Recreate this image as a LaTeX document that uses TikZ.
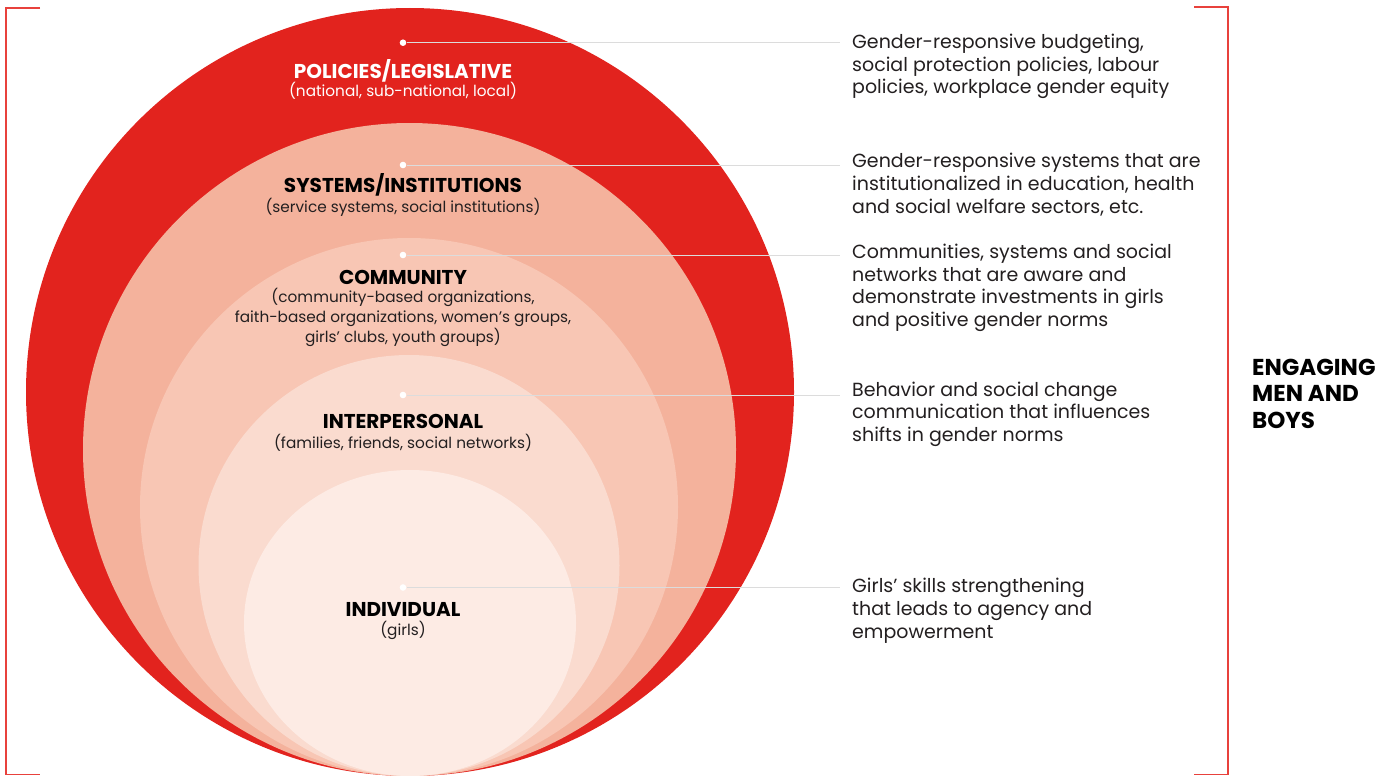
\documentclass[tikz,border=0pt]{standalone}
\usepackage{fontspec}
\setmainfont{Poppins}
\definecolor{cred}{HTML}{E2231E}
\definecolor{csys}{HTML}{F4B29C}
\definecolor{ccom}{HTML}{F8C6B4}
\definecolor{cint}{HTML}{FADBCF}
\definecolor{cind}{HTML}{FDEBE4}
\definecolor{leadgray}{HTML}{DCDCDC}
\definecolor{txt}{HTML}{231F20}
\definecolor{brkred}{HTML}{E8413C}
\begin{document}
\begin{tikzpicture}[x=1pt,y=-1pt,
  dot/.style={circle,fill=white,draw=none,inner sep=0pt,minimum size=6.6pt},
  leader/.style={draw=leadgray,line width=1pt},
  rtext/.style={anchor=base west,inner sep=0pt,text=txt,font=\fontsize{19}{22.8}\selectfont},
  ttl/.style={anchor=base,inner sep=0pt,text=black,font=\bfseries\fontsize{20}{22}\selectfont},
  subt/.style={anchor=base,inner sep=0pt,text=txt,font=\fontsize{15.3}{19.5}\selectfont},
  side/.style={anchor=base west,inner sep=0pt,text=black,font=\bfseries\fontsize{23}{26.7}\selectfont},
  brk/.style={draw=brkred,line width=1.3pt}]
\useasboundingbox (0,0) rectangle (1392,776);
% nested circles
\fill[cred] (410,392) circle[radius=384pt];
\fill[csys] (409.5,449.5) circle[radius=326.5pt];
\fill[ccom] (409,507) circle[radius=269pt];
\fill[cint] (409,565.5) circle[radius=210.5pt];
\fill[cind] (410,623) ellipse[x radius=166pt,y radius=153pt];
% brackets
\draw[brk] (40,8) -- (6,8) -- (6,774.5) -- (40,774.5);
\draw[brk] (1194,7) -- (1228,7) -- (1228,774.5) -- (1194,774.5);
% dots and leader ends
\node[dot] (d1) at (403,42.7) {};
\node[dot] (d2) at (403,165) {};
\node[dot] (d3) at (403,255) {};
\node[dot] (d4) at (403,395) {};
\node[dot] (d5) at (403,587.5) {};
\coordinate (e1) at (840,42.7);
\coordinate (e2) at (840,165);
\coordinate (e3) at (840,255);
\coordinate (e4) at (840,395);
\coordinate (e5) at (840,587.5);
\foreach \i in {1,...,5} \draw[leader] (d\i) -- (e\i);
% circle labels
\node[ttl,text=white] (l1) at (403,78.3) {POLICIES/LEGISLATIVE};
\node[subt,text=white] (s1) at (403,96) {(national, sub-national, local)};
\node[ttl] (l2) at (403,192.7) {SYSTEMS/INSTITUTIONS};
\node[subt] (s2) at (403,212.3) {(service systems, social institutions)};
\node[ttl] (l3) at (403,284) {COMMUNITY};
\node[subt] (s3) at (403,302.7) {\begin{tabular}[t]{@{}c@{}}(community-based organizations,\\faith-based organizations, women’s groups,\\girls’ clubs, youth groups)\end{tabular}};
\node[ttl] (l4) at (403,428.3) {INTERPERSONAL};
\node[subt] (s4) at (403,448.3) {(families, friends, social networks)};
\node[ttl] (l5) at (403,616.7) {INDIVIDUAL};
\node[subt] (s5) at (403,635) {(girls)};
% right texts
\node[rtext] (t1) at (852,48.3) {\begin{tabular}[t]{@{}l@{}}Gender-responsive budgeting,\\social protection policies, labour\\policies, workplace gender equity\end{tabular}};
\node[rtext] (t2) at (852,167.7) {\begin{tabular}[t]{@{}l@{}}Gender-responsive systems that are\\institutionalized in education, health\\and social welfare sectors, etc.\end{tabular}};
\node[rtext] (t3) at (852,258.3) {\begin{tabular}[t]{@{}l@{}}Communities, systems and social\\networks that are aware and\\demonstrate investments in girls\\and positive gender norms\end{tabular}};
\node[rtext] (t4) at (852,396) {\begin{tabular}[t]{@{}l@{}}Behavior and social change\\communication that influences\\shifts in gender norms\end{tabular}};
\node[rtext] (t5) at (852,592.7) {\begin{tabular}[t]{@{}l@{}}Girls’ skills strengthening\\that leads to agency and\\empowerment\end{tabular}};
% side label
\node[side] (side) at (1252,375) {\begin{tabular}[t]{@{}l@{}}ENGAGING\\MEN AND\\BOYS\end{tabular}};
\end{tikzpicture}
\end{document}
